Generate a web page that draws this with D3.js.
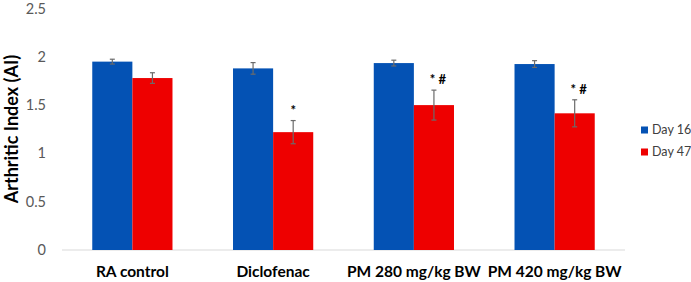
<!DOCTYPE html>
<html><head><meta charset="utf-8">
<script src="https://cdn.jsdelivr.net/npm/d3@7"></script>
<style>body{margin:0;background:#fff}</style>
</head><body>
<svg id="c" width="691" height="282"></svg>
<script>
const categories = ["RA control", "Diclofenac", "PM 280 mg/kg BW", "PM 420 mg/kg BW"];
const seriesNames = ["Day 16", "Day 47"];
const day16 = [1.95, 1.88, 1.935, 1.925];
const day47 = [1.78, 1.22, 1.50, 1.415];
const err16 = [0.025, 0.06, 0.03, 0.035];
const err47 = [0.055, 0.12, 0.155, 0.14];
const marks47 = ["", "*", "* #", "* #"];
const yTicks = [0, 0.5, 1, 1.5, 2, 2.5];
const colors = ["#0452B4", "#EE0000"];

const svg = d3.select("#c");
const font = "Lato, 'Open Sans', sans-serif";
const x0 = d3.scaleBand().domain(categories).range([62, 625]).paddingInner(0.43).paddingOuter(0.215);
const x1 = d3.scaleBand().domain(seriesNames).range([0, x0.bandwidth()]);
const y = d3.scaleLinear().domain([0, 2.5]).range([250, 8.5]);

// y tick labels
svg.append("g").selectAll("text").data(yTicks).join("text")
  .attr("x", 46).attr("y", d => y(d)).attr("dy", "0.35em")
  .attr("text-anchor", "end").attr("font-family", font).attr("font-size", 14.5).attr("fill", "#595959")
  .text(d => d);

// baseline
svg.append("line").attr("x1", 62).attr("x2", 625).attr("y1", y(0)).attr("y2", y(0))
  .attr("stroke", "#d9d9d9").attr("stroke-width", 1);

const data = categories.map((c, i) => [
  {cat: c, s: seriesNames[0], v: day16[i], e: err16[i], m: "", col: colors[0]},
  {cat: c, s: seriesNames[1], v: day47[i], e: err47[i], m: marks47[i], col: colors[1]}
]).flat();

svg.append("g").selectAll("rect").data(data).join("rect")
  .attr("x", d => x0(d.cat) + x1(d.s)).attr("width", x1.bandwidth())
  .attr("y", d => y(d.v)).attr("height", d => y(0) - y(d.v)).attr("fill", d => d.col);

const eg = svg.append("g").attr("stroke", "#6b6b6b").attr("stroke-width", 1.2);
data.forEach(d => {
  const cx = x0(d.cat) + x1(d.s) + x1.bandwidth() / 2;
  eg.append("line").attr("x1", cx).attr("x2", cx).attr("y1", y(d.v + d.e)).attr("y2", y(d.v - d.e));
  eg.append("line").attr("x1", cx - 2.5).attr("x2", cx + 2.5).attr("y1", y(d.v + d.e)).attr("y2", y(d.v + d.e));
  eg.append("line").attr("x1", cx - 2.5).attr("x2", cx + 2.5).attr("y1", y(d.v - d.e)).attr("y2", y(d.v - d.e));
});

// significance marks
svg.append("g").selectAll("text").data(data.filter(d => d.m)).join("text")
  .attr("x", d => x0(d.cat) + x1(d.s) + x1.bandwidth() / 2 + (d.m.length > 1 ? 4 : 0))
  .attr("y", d => y(d.v + d.e) - 6)
  .attr("text-anchor", "middle").attr("font-family", font).attr("font-weight", "bold")
  .attr("font-size", 13).attr("fill", "#000").text(d => d.m);

// x labels
svg.append("g").selectAll("text").data(categories).join("text")
  .attr("x", d => x0(d) + x0.bandwidth() / 2).attr("y", 277)
  .attr("text-anchor", "middle").attr("font-family", font).attr("font-weight", "bold")
  .attr("font-size", 15.5).attr("fill", "#000").text(d => d);

// y title
svg.append("text").attr("transform", "translate(18,129) rotate(-90)")
  .attr("text-anchor", "middle").attr("font-family", font).attr("font-weight", "bold")
  .attr("font-size", 18).attr("fill", "#000").text("Arthritic Index (AI)");

// legend
const lg = svg.append("g").selectAll("g").data(seriesNames).join("g")
  .attr("transform", (d, i) => `translate(641,${130 + i * 22})`);
lg.append("rect").attr("x", 0).attr("y", -3.5).attr("width", 7).attr("height", 7).attr("fill", (d, i) => colors[i]);
lg.append("text").attr("x", 11).attr("y", 0).attr("dy", "0.35em").attr("font-family", font)
  .attr("font-size", 12.5).attr("fill", "#404040").text(d => d);
</script>
</body></html>
